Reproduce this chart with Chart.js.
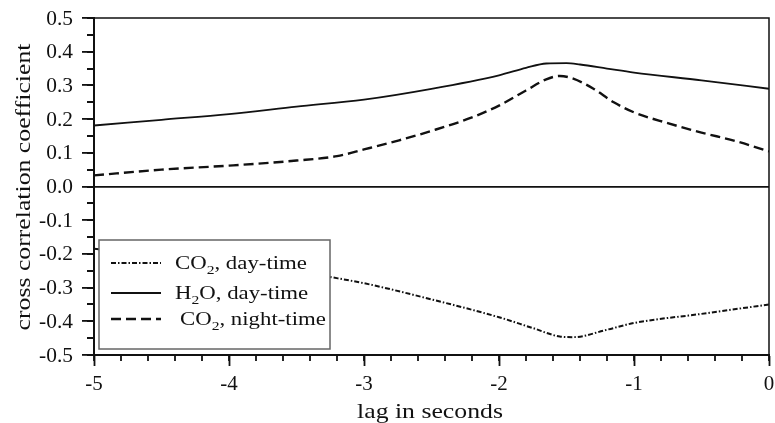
<!DOCTYPE html>
<html><head><meta charset="utf-8">
<script src="https://cdn.jsdelivr.net/npm/chart.js@4"></script>
<style>html,body{margin:0;padding:0;background:#fff}#wrap{width:775px;height:423px}</style>
</head><body><div id="wrap"><canvas id="c" width="775" height="423"></canvas></div>
<script>
const xTickLabels = ['-5','-4','-3','-2','-1','0'];
const yTickLabels = ['0.5','0.4','0.3','0.2','0.1','0.0','-0.1','-0.2','-0.3','-0.4','-0.5'];
const xTitle = 'lag in seconds';
const yTitle = 'cross correlation coefficient';
const seriesNames = ['CO2, day-time','H2O, day-time','CO2, night-time'];

const co2DayLag = [-5,-4.5,-4,-3.5,-3.3,-3,-2.5,-2,-1.75,-1.55,-1.45,-1.2,-1,-0.5,0];
const co2DayVal = [-0.185,-0.2,-0.22,-0.25,-0.265,-0.287,-0.335,-0.388,-0.42,-0.445,-0.447,-0.425,-0.405,-0.378,-0.35];

const h2oDayLag = [-5,-4.5,-4,-3.5,-3,-2.5,-2,-1.8,-1.65,-1.5,-1.4,-1.2,-1,-0.5,0];
const h2oDayVal = [0.181,0.198,0.215,0.237,0.258,0.29,0.33,0.352,0.365,0.366,0.362,0.35,0.338,0.315,0.29];

const co2NightLag = [-5,-4.5,-4,-3.5,-3.2,-3,-2.74,-2.5,-2.2,-2,-1.8,-1.65,-1.55,-1.45,-1.3,-1.15,-1,-0.75,-0.5,-0.25,0];
const co2NightVal = [0.033,0.05,0.062,0.077,0.09,0.11,0.137,0.165,0.205,0.24,0.285,0.318,0.328,0.32,0.29,0.25,0.22,0.188,0.16,0.135,0.104];

const FONT = '"Liberation Serif","Times New Roman",serif';
const pts = (xs, ys) => xs.map((x, i) => ({x, y: ys[i]}));

const styles = [
  {borderDash:[5,2,1.5,2], borderWidth:2},
  {borderDash:[], borderWidth:1.8},
  {borderDash:[10,5], borderWidth:2.4}
];

function txt(ctx, s, x, y, size, align, sx, rot) {
  ctx.save();
  ctx.translate(x, y);
  if (rot) ctx.rotate(rot);
  ctx.scale(sx, 1);
  ctx.font = size + 'px ' + FONT;
  ctx.textAlign = align;
  ctx.textBaseline = 'alphabetic';
  ctx.fillStyle = '#111';
  ctx.fillText(s, 0, 0);
  ctx.restore();
}

const extras = {
  id:'extras',
  afterDraw(chart){
    const ctx = chart.ctx, xs = chart.scales.x, ys = chart.scales.y, a = chart.chartArea;
    ctx.save();
    ctx.strokeStyle = '#111';
    // frame top & right
    ctx.lineWidth = 1.5;
    ctx.beginPath();
    ctx.moveTo(a.left, a.top); ctx.lineTo(a.right, a.top); ctx.lineTo(a.right, a.bottom);
    ctx.stroke();
    // minor ticks
    ctx.lineWidth = 1.8;
    ctx.beginPath();
    for (let v = -5; v <= 0.001; v += 0.2) {
      const px = Math.round(xs.getPixelForValue(v));
      ctx.moveTo(px, a.bottom); ctx.lineTo(px, a.bottom + 6);
    }
    for (let v = -0.5; v <= 0.501; v += 0.05) {
      const py = Math.round(ys.getPixelForValue(v));
      ctx.moveTo(a.left, py); ctx.lineTo(a.left - 7, py);
    }
    ctx.stroke();
    // tick labels
    xTickLabels.forEach(t => txt(ctx, t, xs.getPixelForValue(Number(t)), 390, 20, 'center', 1.05));
    yTickLabels.forEach(t => txt(ctx, t, 73, ys.getPixelForValue(Number(t)) + 6.5, 20, 'right', 1.07));
    // axis titles
    txt(ctx, xTitle, 430, 418, 22, 'center', 1.17);
    txt(ctx, yTitle, 30, 187, 22, 'center', 1.17, -Math.PI / 2);
    // legend
    const L = 99, T = 240, R = 330, B = 349;
    ctx.fillStyle = '#fff';
    ctx.fillRect(L, T, R - L, B - T);
    ctx.strokeStyle = '#666'; ctx.lineWidth = 1.5;
    ctx.strokeRect(L, T, R - L, B - T);
    const rows = [263, 293, 319];
    const subs = [['CO','2',', day-time'],['H','2','O, day-time'],['CO','2',', night-time']];
    const tx = [175, 175, 180];
    const SX = 1.2;
    rows.forEach((ry, i) => {
      const ds = chart.data.datasets[i];
      ctx.strokeStyle = '#111';
      ctx.lineWidth = ds.borderWidth;
      ctx.setLineDash(ds.borderDash);
      ctx.beginPath(); ctx.moveTo(111, ry); ctx.lineTo(161, ry); ctx.stroke();
      ctx.setLineDash([]);
      let x = tx[i];
      const [a1, s, a2] = subs[i];
      const by = ry + 6;
      ctx.font = '19px ' + FONT; const w1 = ctx.measureText(a1).width * SX;
      txt(ctx, a1, x, by, 19, 'left', SX); x += w1;
      ctx.font = '13px ' + FONT; const w2 = ctx.measureText(s).width * SX;
      txt(ctx, s, x, by + 5, 13, 'left', SX); x += w2;
      txt(ctx, a2, x, by, 19, 'left', SX);
    });
    ctx.restore();
  }
};

new Chart(document.getElementById('c'), {
  type: 'line',
  data: {
    datasets: [
      {label: seriesNames[0], data: pts(co2DayLag, co2DayVal)},
      {label: seriesNames[1], data: pts(h2oDayLag, h2oDayVal)},
      {label: seriesNames[2], data: pts(co2NightLag, co2NightVal)}
    ].map((d, i) => Object.assign(d, styles[i], {
      borderColor:'#111', backgroundColor:'#111', pointRadius:0, fill:false,
      cubicInterpolationMode:'monotone', borderCapStyle:'butt'
    }))
  },
  options: {
    responsive:false, animation:false,
    layout:{padding:{top:18, right:6, left:0, bottom:0}},
    plugins:{legend:{display:false}, tooltip:{enabled:false}},
    scales:{
      x:{
        type:'linear', min:-5, max:0,
        afterFit(s){ s.height = 68; },
        afterBuildTicks(s){ s.ticks = xTickLabels.map(t => ({value: Number(t)})); },
        ticks:{display:false},
        grid:{drawOnChartArea:false, drawTicks:true, tickLength:11, tickWidth:1.8, tickColor:'#111'},
        border:{display:true, color:'#111', width:2}
      },
      y:{
        type:'linear', min:-0.5, max:0.5,
        afterFit(s){ s.width = 94; },
        afterBuildTicks(s){ s.ticks = yTickLabels.map(t => ({value: Number(t)})); },
        ticks:{display:false},
        grid:{drawOnChartArea:true, drawTicks:true, tickLength:12, tickWidth:1.8, tickColor:'#111',
              color:(c) => (c.tick && c.tick.value === 0) ? '#111' : 'rgba(0,0,0,0)', lineWidth:1.8},
        border:{display:true, color:'#111', width:2}
      }
    }
  },
  plugins:[extras]
});
</script>
</body></html>
